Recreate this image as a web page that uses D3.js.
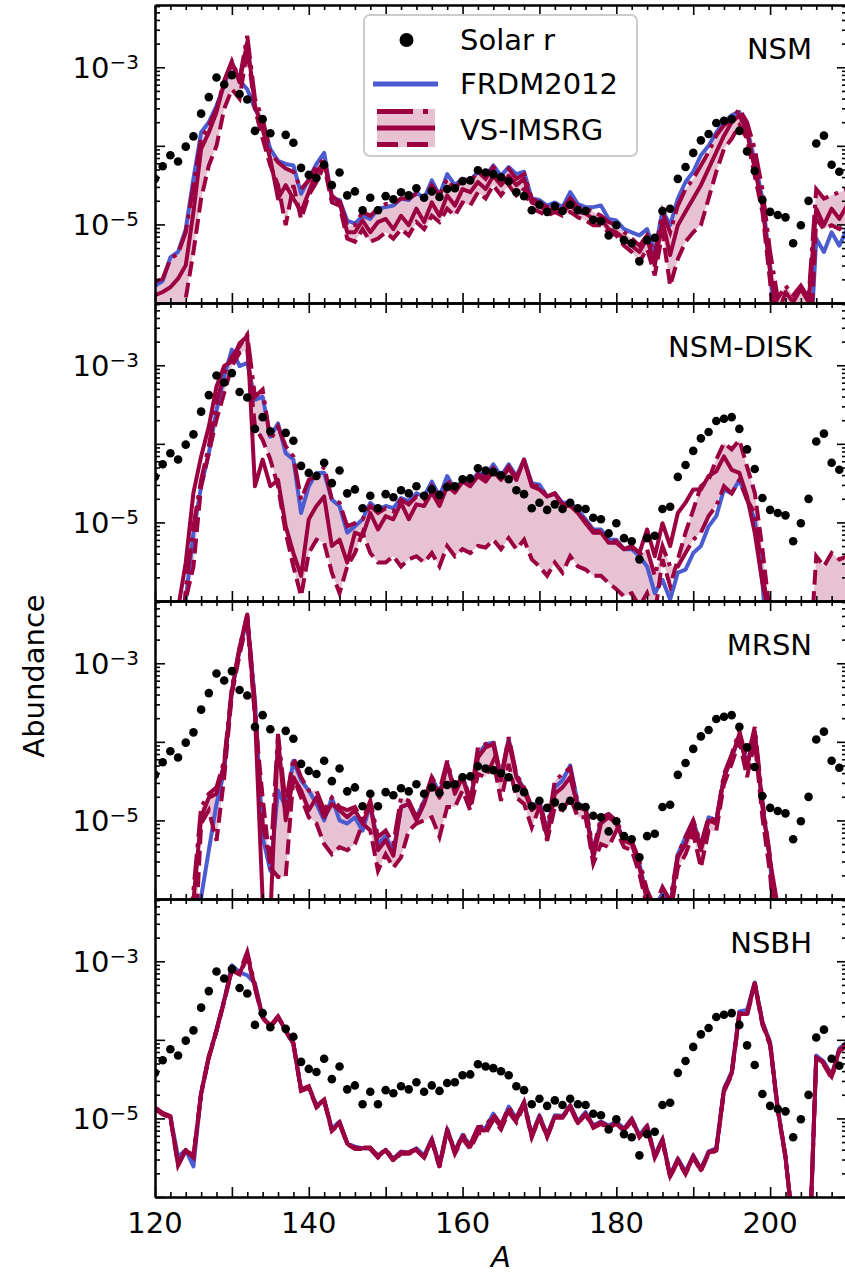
<!DOCTYPE html>
<html>
<head>
<meta charset="utf-8">
<script src="https://cdn.jsdelivr.net/npm/d3@7/dist/d3.min.js"></script>
<style>
  body { margin: 0; background: #fff; }
  svg { display: block; font-family: "DejaVu Sans", sans-serif; }
</style>
</head>
<body>
<svg id="chart" width="845" height="1277"></svg>
<script>
// mass numbers A of the model curves
const massNumbers = [
  120,121,122,123,124,125,126,127,128,129,
  130,131,132,133,134,135,136,137,138,139,
  140,141,142,143,144,145,146,147,148,149,
  150,151,152,153,154,155,156,157,158,159,
  160,161,162,163,164,165,166,167,168,169,
  170,171,172,173,174,175,176,177,178,179,
  180,181,182,183,184,185,186,187,188,189,
  190,191,192,193,194,195,196,197,198,199,
  200,201,202,203,204,205,206,207,208,209,210];

// solar r-process residuals (log10 abundance), no point at A=136
const solarA = [
  120,121,122,123,124,125,126,127,128,129,130,131,132,133,134,135,
  137,138,139,140,141,142,143,144,145,146,147,148,149,
  150,151,152,153,154,155,156,157,158,159,
  160,161,162,163,164,165,166,167,168,169,
  170,171,172,173,174,175,176,177,178,179,
  180,181,182,183,184,185,186,187,188,189,
  190,191,192,193,194,195,196,197,198,199,
  200,201,202,203,204,205,206,207,208,209];
const solarLog = [
  -4.42,-4.26,-4.12,-4.20,-4.01,-3.88,-3.59,-3.38,-3.13,-3.22,-3.10,-3.34,-3.41,-3.81,-3.66,-3.84,
  -3.86,-3.96,-4.28,-4.37,-4.41,-4.24,-4.50,-4.34,-4.63,-4.58,-4.82,-4.66,-4.82,
  -4.64,-4.68,-4.59,-4.63,-4.54,-4.66,-4.58,-4.65,-4.55,-4.54,
  -4.45,-4.44,-4.31,-4.34,-4.36,-4.40,-4.45,-4.59,-4.64,-4.82,
  -4.75,-4.84,-4.77,-4.83,-4.75,-4.82,-4.83,-4.94,-4.96,-5.14,
  -5.01,-5.20,-5.24,-5.47,-5.20,-5.17,-4.83,-4.80,-4.42,-4.27,
  -4.09,-3.93,-3.85,-3.71,-3.68,-3.66,-3.81,-4.07,-4.32,-4.69,
  -4.84,-4.88,-4.91,-5.24,-5.01,-4.70,-3.97,-3.87,-4.24,-4.33];

// log10 abundances; -7 means below the plotted range
// NSM
const nsmFrdm = [
  -5.78,-5.72,-5.42,-5.35,-5.06,-4.42,-3.83,-3.70,-3.49,-3.23,
  -2.94,-3.17,-3.28,-3.53,-3.70,-4.04,-4.19,-4.23,-4.25,-4.61,
  -4.42,-4.23,-4.09,-4.67,-4.69,-4.95,-4.99,-4.89,-4.93,-4.80,
  -4.78,-4.76,-4.67,-4.69,-4.59,-4.67,-4.44,-4.63,-4.36,-4.50,
  -4.42,-4.44,-4.33,-4.38,-4.25,-4.38,-4.27,-4.36,-4.33,-4.67,
  -4.69,-4.76,-4.72,-4.78,-4.59,-4.74,-4.78,-4.78,-4.76,-4.93,
  -4.95,-5.06,-5.10,-5.14,-5.06,-5.35,-4.82,-5.01,-4.67,-4.46,
  -4.33,-4.12,-4.00,-3.83,-3.70,-3.61,-3.57,-3.78,-4.21,-4.67,
  -5.52,-7,-7,-7,-7,-7,-5.18,-5.35,-5.10,-5.27,-5.06];
const nsmMid = [
  -5.90,-5.86,-5.80,-5.69,-5.52,-4.84,-4.04,-3.83,-3.57,-3.19,
  -2.94,-3.19,-2.68,-3.49,-3.78,-4.17,-4.67,-4.50,-4.67,-4.84,
  -4.59,-4.33,-4.21,-4.63,-4.72,-5.10,-5.10,-4.95,-5.10,-4.97,
  -4.93,-5.06,-4.89,-5.01,-4.80,-4.97,-4.72,-4.89,-4.63,-4.76,
  -4.55,-4.59,-4.46,-4.55,-4.38,-4.50,-4.38,-4.50,-4.42,-4.72,
  -4.76,-4.84,-4.78,-4.84,-4.76,-4.84,-4.86,-4.93,-4.93,-5.06,
  -5.10,-5.18,-5.27,-5.35,-5.18,-5.52,-4.95,-5.39,-5.01,-4.84,
  -4.67,-4.50,-4.29,-4.08,-3.87,-3.70,-3.61,-3.83,-4.29,-4.76,
  -5.61,-6.16,-5.86,-5.99,-5.82,-5.99,-4.80,-5.01,-4.80,-4.93,-4.76];
const nsmDashdot = [
  -5.73,-5.69,-5.44,-5.37,-5.10,-4.50,-3.91,-3.74,-3.53,-3.17,
  -2.92,-3.15,-2.60,-3.40,-3.66,-4.08,-4.21,-4.29,-4.33,-4.55,
  -4.44,-4.25,-4.17,-4.67,-4.69,-5.01,-5.01,-4.84,-4.89,-4.80,
  -4.74,-4.74,-4.67,-4.67,-4.61,-4.67,-4.50,-4.63,-4.42,-4.55,
  -4.42,-4.46,-4.33,-4.42,-4.27,-4.38,-4.29,-4.42,-4.36,-4.67,
  -4.72,-4.78,-4.74,-4.80,-4.67,-4.78,-4.80,-4.84,-4.89,-4.97,
  -5.01,-5.10,-5.18,-5.27,-5.14,-5.39,-4.84,-5.10,-4.76,-4.55,
  -4.42,-4.25,-4.08,-3.87,-3.74,-3.66,-3.53,-3.70,-4.04,-4.55,
  -5.35,-5.94,-5.78,-5.90,-5.78,-5.94,-4.55,-4.67,-4.63,-4.59,-4.55];
const nsmDashed = [
  -7,-7,-7,-7,-5.94,-5.35,-4.67,-4.25,-4.00,-3.53,
  -3.28,-3.40,-2.77,-3.53,-3.91,-4.25,-4.50,-5.01,-4.50,-4.93,
  -4.63,-4.46,-4.25,-4.72,-4.76,-5.18,-5.22,-5.06,-5.22,-5.18,
  -5.10,-5.18,-5.06,-5.14,-4.97,-5.06,-4.89,-4.97,-4.80,-4.89,
  -4.72,-4.76,-4.59,-4.67,-4.50,-4.63,-4.50,-4.63,-4.55,-4.80,
  -4.84,-4.89,-4.84,-4.89,-4.84,-4.91,-4.95,-5.01,-5.01,-5.10,
  -5.14,-5.27,-5.35,-5.48,-5.31,-5.65,-5.10,-5.78,-5.44,-5.22,
  -5.10,-5.01,-4.67,-4.33,-4.04,-3.91,-3.74,-3.91,-4.38,-4.84,
  -5.73,-7,-7,-7,-7,-7,-4.93,-5.06,-5.01,-5.06,-4.97];

// NSM-DISK
const diskFrdm = [
  -7,-7,-7,-7,-5.98,-5.13,-4.54,-4.12,-3.57,-3.14,
  -2.80,-3.01,-2.97,-3.44,-3.40,-3.91,-3.74,-4.12,-4.20,-4.88,
  -4.54,-4.37,-4.37,-4.71,-4.79,-5.13,-5.05,-4.96,-4.75,-4.84,
  -4.79,-4.82,-4.69,-4.73,-4.63,-4.67,-4.48,-4.67,-4.41,-4.58,
  -4.46,-4.50,-4.37,-4.41,-4.26,-4.41,-4.26,-4.41,-4.20,-4.50,
  -4.52,-4.67,-4.63,-4.75,-4.75,-4.84,-4.96,-5.09,-5.09,-5.22,
  -5.22,-5.34,-5.34,-5.43,-5.56,-5.90,-5.73,-5.98,-5.64,-5.60,
  -5.39,-5.30,-5.05,-4.92,-4.58,-4.63,-4.46,-4.71,-4.96,-5.77,
  -7,-7,-7,-7,-7,-7,-7,-7,-7,-7,-7];
const diskMid = [
  -7,-7,-7,-6.10,-5.51,-4.62,-4.16,-3.78,-3.27,-3.01,
  -2.95,-2.72,-2.63,-4.54,-4.20,-4.54,-4.46,-5.05,-5.39,-5.68,
  -4.96,-4.79,-4.67,-5.30,-5.22,-5.51,-5.13,-5.17,-4.88,-5.09,
  -4.92,-4.96,-4.75,-4.96,-4.77,-4.79,-4.62,-4.79,-4.54,-4.62,
  -4.48,-4.54,-4.41,-4.48,-4.35,-4.46,-4.31,-4.46,-4.20,-4.54,
  -4.58,-4.67,-4.63,-4.79,-4.79,-4.88,-5.01,-5.13,-5.13,-5.26,
  -5.26,-5.34,-5.30,-5.39,-5.09,-5.43,-5.01,-5.30,-4.88,-4.75,
  -4.58,-4.58,-4.41,-4.35,-4.16,-4.33,-4.37,-4.67,-5.13,-5.77,
  -6.24,-7,-7,-7,-7,-7,-7,-7,-7,-7,-7];
const diskDashdot = [
  -7,-7,-7,-7,-5.85,-5.05,-4.46,-4.03,-3.48,-3.10,
  -2.89,-2.76,-2.61,-3.40,-3.31,-3.95,-3.78,-4.03,-4.16,-4.71,
  -4.46,-4.41,-4.29,-4.71,-4.75,-5.05,-5.01,-4.96,-4.79,-4.88,
  -4.82,-4.86,-4.71,-4.77,-4.67,-4.71,-4.54,-4.71,-4.46,-4.60,
  -4.48,-4.52,-4.39,-4.43,-4.31,-4.43,-4.29,-4.43,-4.22,-4.52,
  -4.54,-4.67,-4.63,-4.77,-4.77,-4.86,-4.99,-5.11,-5.11,-5.24,
  -5.24,-5.34,-5.32,-5.41,-5.34,-5.68,-5.30,-5.56,-5.56,-5.39,
  -5.22,-5.13,-4.92,-4.79,-4.54,-4.63,-4.46,-4.71,-4.88,-5.68,
  -6.20,-7,-7,-7,-7,-7,-7,-7,-7,-7,-7];
const diskDashed = [
  -7,-7,-7,-7,-5.98,-5.56,-4.54,-4.12,-3.69,-3.35,
  -3.01,-2.84,-2.80,-3.78,-3.95,-4.20,-4.54,-5.13,-5.56,-5.94,
  -5.39,-5.22,-5.26,-5.64,-5.90,-5.56,-5.39,-5.13,-5.39,-5.51,
  -5.51,-5.43,-5.56,-5.47,-5.43,-5.51,-5.39,-5.56,-5.30,-5.43,
  -5.34,-5.39,-5.30,-5.32,-5.22,-5.34,-5.20,-5.34,-5.22,-5.47,
  -5.56,-5.68,-5.51,-5.64,-5.43,-5.56,-5.60,-5.68,-5.68,-5.77,
  -5.85,-5.94,-5.90,-6.07,-5.90,-6.19,-5.47,-5.81,-5.47,-5.13,
  -4.84,-4.54,-4.46,-4.20,-3.99,-4.07,-3.95,-4.29,-4.62,-5.34,
  -6.19,-7,-7,-7,-7,-7,-5.43,-5.56,-5.39,-5.47,-5.43];

// MRSN
const mrsnFrdm = [
  -7,-7,-7,-7,-7,-7,-5.98,-5.38,-4.79,-4.37,
  -3.35,-2.84,-2.42,-3.48,-5.21,-5.64,-4.62,-4.83,-4.24,-4.49,
  -4.62,-4.79,-5.00,-4.71,-5.00,-5.04,-4.96,-5.13,-4.79,-5.30,
  -5.20,-5.40,-4.83,-4.79,-4.96,-4.75,-4.45,-4.66,-4.28,-4.62,
  -4.43,-4.75,-4.18,-4.03,-4.01,-4.45,-3.96,-4.43,-4.60,-4.83,
  -4.75,-5.17,-4.58,-4.49,-4.30,-4.79,-4.83,-5.43,-5.00,-4.92,
  -5.04,-5.24,-5.28,-5.55,-5.98,-6.10,-5.93,-6.10,-5.43,-5.21,
  -5.00,-5.34,-4.96,-5.00,-4.45,-4.20,-3.94,-4.28,-3.90,-4.79,
  -5.51,-7,-7,-7,-7,-7,-7,-7,-7,-7,-7];
const mrsnMid = [
  -7,-7,-7,-7,-7,-6.02,-4.96,-4.71,-4.66,-4.28,
  -3.35,-2.80,-2.38,-3.65,-6.02,-6.23,-3.94,-5.00,-4.45,-4.62,
  -4.87,-4.71,-4.96,-4.79,-4.87,-4.96,-4.87,-5.04,-4.79,-5.38,
  -5.25,-5.45,-4.83,-4.79,-5.00,-4.79,-4.49,-4.71,-4.28,-4.66,
  -4.45,-4.79,-4.20,-4.07,-4.03,-4.49,-3.99,-4.45,-4.62,-4.87,
  -4.79,-5.21,-4.66,-4.58,-4.45,-4.83,-4.87,-5.47,-5.04,-4.96,
  -5.04,-5.26,-5.30,-5.60,-6.02,-6.10,-5.98,-6.10,-5.47,-5.30,
  -5.04,-5.38,-5.00,-5.04,-4.45,-4.20,-3.90,-4.33,-3.86,-4.83,
  -5.51,-6.10,-7,-7,-7,-7,-7,-7,-7,-7,-7];
const mrsnDashdot = [
  -7,-7,-7,-7,-7,-5.89,-4.83,-4.66,-4.58,-4.24,
  -3.31,-2.80,-2.38,-3.52,-5.04,-5.55,-3.90,-4.79,-4.20,-4.45,
  -4.62,-4.62,-4.87,-4.71,-4.83,-4.87,-4.83,-5.00,-4.75,-5.21,
  -5.13,-5.30,-4.71,-4.75,-4.96,-4.75,-4.45,-4.62,-4.24,-4.62,
  -4.41,-4.75,-4.07,-4.03,-3.99,-4.45,-3.94,-4.41,-4.58,-4.83,
  -4.75,-5.13,-4.49,-4.41,-4.33,-4.79,-4.83,-5.38,-4.96,-4.92,
  -5.00,-5.21,-5.26,-5.51,-5.89,-6.10,-5.85,-6.02,-5.43,-5.21,
  -5.00,-5.30,-4.96,-5.00,-4.41,-4.16,-3.86,-4.24,-3.81,-4.75,
  -5.47,-7,-7,-7,-7,-7,-7,-7,-7,-7,-7];
const mrsnDashed = [
  -7,-7,-7,-7,-7,-7,-5.04,-4.87,-5.26,-4.45,
  -3.39,-2.89,-2.46,-3.69,-4.71,-5.60,-5.72,-5.72,-4.45,-4.71,
  -4.96,-5.04,-5.30,-5.43,-5.34,-5.38,-5.30,-5.04,-5.13,-5.64,
  -5.43,-5.60,-5.47,-5.13,-5.04,-5.00,-4.96,-5.21,-4.83,-4.83,
  -4.62,-4.87,-4.41,-4.45,-4.24,-4.75,-4.28,-4.71,-4.79,-5.09,
  -4.83,-5.26,-4.83,-4.87,-4.71,-4.96,-4.96,-5.55,-5.30,-5.34,
  -5.13,-5.34,-5.38,-5.68,-6.10,-6.20,-6.06,-6.20,-5.60,-5.43,
  -5.17,-5.60,-5.13,-5.13,-4.54,-4.28,-3.99,-4.45,-3.99,-4.96,
  -5.68,-7,-7,-7,-7,-7,-7,-7,-7,-7,-7];

// NSBH
const nsbhFrdm = [
  -4.87,-4.94,-4.98,-5.49,-5.40,-5.61,-4.68,-4.22,-3.88,-3.50,
  -3.05,-3.14,-3.18,-3.28,-3.71,-3.83,-3.71,-3.88,-4.05,-4.64,
  -4.60,-4.83,-4.77,-5.13,-5.04,-5.32,-5.36,-5.38,-5.38,-5.47,
  -5.40,-5.51,-5.42,-5.44,-5.38,-5.47,-5.26,-5.59,-5.13,-5.42,
  -5.21,-5.34,-5.13,-5.12,-4.94,-5.09,-4.85,-5.00,-4.79,-5.21,
  -4.96,-5.21,-4.96,-4.97,-4.83,-5.04,-4.92,-5.09,-5.04,-5.09,
  -5.04,-5.13,-5.00,-5.21,-5.09,-5.47,-5.26,-5.72,-5.51,-5.68,
  -5.47,-5.64,-5.42,-5.38,-4.62,-4.41,-3.64,-3.62,-3.27,-3.77,
  -4.03,-4.87,-5.49,-6.40,-7,-7,-4.20,-4.28,-4.45,-4.11,-4.03];
const nsbhMid = [
  -4.87,-4.94,-4.98,-5.59,-5.40,-5.49,-4.68,-4.22,-3.88,-3.50,
  -3.11,-3.16,-2.92,-3.33,-3.71,-3.83,-3.71,-3.88,-4.05,-4.64,
  -4.60,-4.85,-4.77,-5.15,-5.06,-5.32,-5.38,-5.38,-5.38,-5.49,
  -5.40,-5.53,-5.44,-5.44,-5.40,-5.49,-5.28,-5.61,-5.15,-5.44,
  -5.23,-5.36,-5.15,-5.15,-4.98,-5.11,-4.89,-5.02,-4.81,-5.23,
  -4.98,-5.23,-4.98,-4.98,-4.85,-5.06,-4.94,-5.11,-5.06,-5.11,
  -5.06,-5.15,-5.02,-5.23,-5.11,-5.49,-5.28,-5.74,-5.53,-5.70,
  -5.49,-5.66,-5.44,-5.40,-4.64,-4.43,-3.67,-3.67,-3.28,-3.79,
  -4.05,-4.89,-5.49,-6.40,-7,-7,-4.22,-4.30,-4.47,-4.13,-4.05];
const nsbhDashdot = [
  -4.86,-4.93,-4.97,-5.57,-5.39,-5.48,-4.67,-4.21,-3.87,-3.49,
  -3.10,-3.14,-2.88,-3.31,-3.70,-3.82,-3.70,-3.87,-4.04,-4.63,
  -4.59,-4.84,-4.76,-5.14,-5.05,-5.31,-5.37,-5.37,-5.37,-5.48,
  -5.39,-5.52,-5.43,-5.43,-5.39,-5.48,-5.27,-5.60,-5.14,-5.43,
  -5.20,-5.33,-5.11,-5.10,-4.95,-5.08,-4.86,-4.99,-4.79,-5.22,
  -4.97,-5.22,-4.97,-4.97,-4.84,-5.05,-4.93,-5.10,-5.05,-5.10,
  -5.05,-5.14,-5.01,-5.22,-5.10,-5.48,-5.27,-5.73,-5.52,-5.69,
  -5.48,-5.65,-5.43,-5.39,-4.63,-4.42,-3.66,-3.66,-3.27,-3.78,
  -4.04,-4.88,-5.48,-6.40,-7,-7,-4.21,-4.29,-4.46,-4.12,-4.04];
const nsbhDashed = [
  -4.88,-4.95,-4.99,-5.60,-5.41,-5.50,-4.69,-4.23,-3.89,-3.51,
  -3.12,-3.17,-2.95,-3.34,-3.72,-3.84,-3.72,-3.89,-4.06,-4.65,
  -4.61,-4.86,-4.78,-5.16,-5.07,-5.33,-5.39,-5.39,-5.39,-5.50,
  -5.41,-5.54,-5.45,-5.45,-5.41,-5.50,-5.29,-5.62,-5.16,-5.45,
  -5.26,-5.39,-5.19,-5.19,-5.02,-5.14,-4.92,-5.05,-4.83,-5.24,
  -4.99,-5.24,-4.99,-4.99,-4.86,-5.07,-4.95,-5.12,-5.07,-5.12,
  -5.07,-5.16,-5.03,-5.24,-5.12,-5.50,-5.29,-5.75,-5.54,-5.71,
  -5.50,-5.67,-5.45,-5.41,-4.66,-4.45,-3.69,-3.69,-3.30,-3.81,
  -4.07,-4.90,-5.50,-6.40,-7,-7,-4.24,-4.32,-4.49,-4.15,-4.07];

const panels = [
  { name: "NSM", frdm: nsmFrdm, mid: nsmMid, hi: nsmDashdot, lo: nsmDashed },
  { name: "NSM-DISK", frdm: diskFrdm, mid: diskMid, hi: diskDashdot, lo: diskDashed },
  { name: "MRSN", frdm: mrsnFrdm, mid: mrsnMid, hi: mrsnDashdot, lo: mrsnDashed },
  { name: "NSBH", frdm: nsbhFrdm, mid: nsbhMid, hi: nsbhDashdot, lo: nsbhDashed }
];

const crimson = "#9b0041";
const blue = "#4b5bd0";
const fontSize = 29;
const left = 155, right = 847, panelH = 298, firstTop = 5;

const svg = d3.select("#chart");
const x = d3.scaleLinear().domain([120, 210]).range([left, right]);

const xMajor = x.ticks(9);
const xMinor = x.ticks(45).filter(v => v % 10 !== 0);

panels.forEach((p, i) => {
  const top = firstTop + i * panelH;
  const bottom = top + panelH;
  const y = d3.scaleLog().domain([1e-6, 6.2e-3]).range([bottom, top]);
  const yMajor = [1e-6, 1e-5, 1e-4, 1e-3];
  const yMinor = y.ticks().filter(v => !yMajor.some(m => Math.abs(v / m - 1) < 1e-6));

  const clipId = "clip" + i;
  svg.append("clipPath").attr("id", clipId)
    .append("rect").attr("x", left).attr("y", top).attr("width", right - left).attr("height", panelH);

  const g = svg.append("g");
  const plot = g.append("g").attr("clip-path", `url(#${clipId})`);

  // band between the two VS-IMSRG variations
  const band = d3.area()
    .x(d => x(d))
    .y0((d, k) => y(10 ** p.lo[k]))
    .y1((d, k) => y(10 ** p.hi[k]));
  plot.append("path").datum(massNumbers).attr("d", band)
    .attr("fill", crimson).attr("fill-opacity", 0.24);

  const line = d3.line().x((d, k) => x(massNumbers[k])).y(d => y(10 ** d));

  plot.append("path").datum(p.frdm).attr("d", line)
    .attr("fill", "none").attr("stroke", blue).attr("stroke-width", 4)
    .attr("stroke-linejoin", "round");
  plot.append("path").datum(p.hi).attr("d", line)
    .attr("fill", "none").attr("stroke", crimson).attr("stroke-width", 4)
    .attr("stroke-dasharray", "26,6.5,4,6.5");
  plot.append("path").datum(p.lo).attr("d", line)
    .attr("fill", "none").attr("stroke", crimson).attr("stroke-width", 4)
    .attr("stroke-dasharray", "15,6.5");
  plot.append("path").datum(p.mid).attr("d", line)
    .attr("fill", "none").attr("stroke", crimson).attr("stroke-width", 4)
    .attr("stroke-linejoin", "round");

  plot.selectAll("circle.solar").data(solarA).enter().append("circle")
    .attr("class", "solar")
    .attr("cx", d => x(d))
    .attr("cy", (d, k) => y(10 ** solarLog[k]))
    .attr("r", 4.3)
    .attr("fill", "#000");

  // axes, ticks pointing inward on all four sides
  const styleAxis = sel => {
    sel.select(".domain").attr("stroke", "#000").attr("stroke-width", 2);
    sel.selectAll(".tick line").attr("stroke", "#000").attr("stroke-width", 1.6);
    sel.selectAll(".tick text").remove();
  };
  g.append("g").attr("transform", `translate(0,${bottom})`)
    .call(d3.axisBottom(x).tickValues(xMajor).tickSize(-10).tickSizeOuter(0)).call(styleAxis);
  g.append("g").attr("transform", `translate(0,${bottom})`)
    .call(d3.axisBottom(x).tickValues(xMinor).tickSize(-5).tickSizeOuter(0)).call(styleAxis);
  g.append("g").attr("transform", `translate(0,${top})`)
    .call(d3.axisTop(x).tickValues(xMajor).tickSize(-10).tickSizeOuter(0)).call(styleAxis);
  g.append("g").attr("transform", `translate(0,${top})`)
    .call(d3.axisTop(x).tickValues(xMinor).tickSize(-5).tickSizeOuter(0)).call(styleAxis);
  g.append("g").attr("transform", `translate(${left},0)`)
    .call(d3.axisLeft(y).tickValues(yMajor).tickSize(-10).tickSizeOuter(0)).call(styleAxis);
  g.append("g").attr("transform", `translate(${left},0)`)
    .call(d3.axisLeft(y).tickValues(yMinor).tickSize(-5).tickSizeOuter(0)).call(styleAxis);
  g.append("g").attr("transform", `translate(${right},0)`)
    .call(d3.axisRight(y).tickValues(yMajor).tickSize(-10).tickSizeOuter(0)).call(styleAxis);
  g.append("g").attr("transform", `translate(${right},0)`)
    .call(d3.axisRight(y).tickValues(yMinor).tickSize(-5).tickSizeOuter(0)).call(styleAxis);

  // y tick labels 10^-3 and 10^-5
  [[1e-3, "\u22123"], [1e-5, "\u22125"]].forEach(([v, e]) => {
    const t = g.append("text")
      .attr("x", left - 16).attr("y", y(v) + 10.5)
      .attr("text-anchor", "end").attr("font-size", fontSize);
    t.append("tspan").text("10");
    t.append("tspan").attr("font-size", 20).attr("dy", -9).text(e);
  });

  g.append("text")
    .attr("x", 812).attr("y", top + 54)
    .attr("text-anchor", "end").attr("font-size", fontSize)
    .text(p.name);

  if (i === panels.length - 1) {
    g.selectAll("text.xlab").data([120, 140, 160, 180, 200]).enter().append("text")
      .attr("class", "xlab")
      .attr("x", d => x(d)).attr("y", bottom + 36)
      .attr("text-anchor", "middle").attr("font-size", fontSize)
      .text(d => d);
  }

  if (i === 0) {
    const lg = g.append("g");
    lg.append("rect")
      .attr("x", 364).attr("y", 15).attr("width", 273).attr("height", 141)
      .attr("rx", 6).attr("fill", "#fff").attr("fill-opacity", 0.8)
      .attr("stroke", "#cccccc").attr("stroke-width", 2);
    lg.append("circle").attr("cx", 406.5).attr("cy", 40).attr("r", 7).attr("fill", "#000");
    lg.append("line").attr("x1", 373).attr("x2", 438).attr("y1", 84).attr("y2", 84)
      .attr("stroke", blue).attr("stroke-width", 5);
    lg.append("rect").attr("x", 377).attr("y", 109).attr("width", 58).attr("height", 38)
      .attr("fill", crimson).attr("fill-opacity", 0.24);
    lg.append("line").attr("x1", 377).attr("x2", 435).attr("y1", 111.5).attr("y2", 111.5)
      .attr("stroke", crimson).attr("stroke-width", 5).attr("stroke-dasharray", "36,10,5,10");
    lg.append("line").attr("x1", 377).attr("x2", 435).attr("y1", 128).attr("y2", 128)
      .attr("stroke", crimson).attr("stroke-width", 5);
    lg.append("line").attr("x1", 377).attr("x2", 435).attr("y1", 144.5).attr("y2", 144.5)
      .attr("stroke", crimson).attr("stroke-width", 5).attr("stroke-dasharray", "21,9");
    const labels = ["Solar r", "FRDM2012", "VS-IMSRG"];
    const baselines = [50, 94, 139.5];
    labels.forEach((s, k) => {
      lg.append("text").attr("x", 460).attr("y", baselines[k])
        .attr("font-size", fontSize).text(s);
    });
  }
});

// axis titles
svg.append("text")
  .attr("transform", "translate(44,676) rotate(-90)")
  .attr("text-anchor", "middle").attr("font-size", fontSize)
  .text("Abundance");
svg.append("text")
  .attr("x", (left + right) / 2).attr("y", 1267)
  .attr("text-anchor", "middle").attr("font-size", fontSize)
  .attr("font-style", "italic")
  .text("A");
</script>
</body>
</html>
